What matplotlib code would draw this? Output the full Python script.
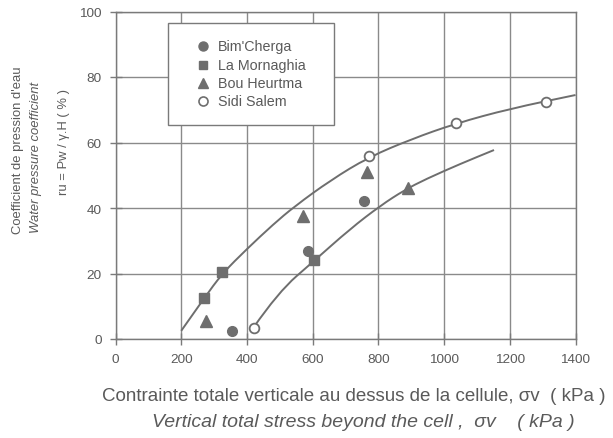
import matplotlib
matplotlib.use("Agg")
import matplotlib.pyplot as plt
from matplotlib.path import Path
from matplotlib.patches import PathPatch, Rectangle

plt.rcParams['font.family'] = ['Liberation Sans', 'DejaVu Sans']

GRAY = '#6e6e6e'
TXT = '#5a5a5a'
LINE = '#7a7a7a'

# Data
bim_x = [355, 585, 755]
bim_y = [2.5, 27, 42]
mor_x = [270, 325, 605]
mor_y = [12.5, 20.5, 24]
bou_x = [275, 572, 765, 890]
bou_y = [5.5, 37.5, 51, 46]
sidi_x = [420, 770, 1035, 1310]
sidi_y = [3.5, 56, 66, 72.5]

# Trend curves
up_x = [200, 270, 325, 400, 480, 545, 655, 770, 900, 1035, 1200, 1400]
up_y = [2.5, 12.5, 20, 27.5, 35, 40.5, 48.5, 55.5, 61, 65.8, 70.3, 74.5]
lo_x = [420, 495, 606, 714, 806, 880, 944, 1050, 1152]
lo_y = [3.5, 14.3, 24, 33.6, 40.7, 45.5, 48.8, 53.5, 57.7]

x_ticks = [0, 200, 400, 600, 800, 1000, 1200, 1400]
y_ticks = [0, 20, 40, 60, 80, 100]
labels = ["Bim'Cherga", "La Mornaghia", "Bou Heurtma", "Sidi Salem"]

W, H = 613, 439
fig = plt.figure(figsize=(W / 100, H / 100), dpi=100)
ax = fig.add_axes([115.5 / W, 1 - 340 / H, 460 / W, 327.5 / H])

ax.set_xlim(0, 1400)
ax.set_ylim(0, 100)
ax.set_xticks(x_ticks)
ax.set_yticks(y_ticks)
ax.grid(True, color='#8a8a8a', lw=1.0)
ax.set_axisbelow(True)
for s in ax.spines.values():
    s.set_color(LINE)
    s.set_linewidth(1.0)
ax.tick_params(direction='inout', length=8, width=1.0, colors=LINE,
               labelcolor=TXT, labelsize=9.7, pad=6)


def smooth_curve(xs, ys):
    pts = list(zip(xs, ys))
    verts = [pts[0]]
    codes = [Path.MOVETO]
    for i in range(1, len(pts) - 1):
        mid = ((pts[i][0] + pts[i + 1][0]) / 2, (pts[i][1] + pts[i + 1][1]) / 2)
        verts += [pts[i], mid]
        codes += [Path.CURVE3, Path.CURVE3]
    verts.append(pts[-1])
    codes.append(Path.LINETO)
    return PathPatch(Path(verts, codes), fc='none', ec=GRAY, lw=1.4,
                     transform=ax.transData, zorder=3, clip_on=False)


ax.add_patch(smooth_curve(up_x, up_y))
ax.add_patch(smooth_curve(lo_x, lo_y))

ms = 7
ax.plot(bim_x, bim_y, 'o', ms=ms, color=GRAY, zorder=4)
ax.plot(mor_x, mor_y, 's', ms=ms, color=GRAY, zorder=4)
ax.plot(bou_x, bou_y, '^', ms=ms + 1, color=GRAY, zorder=4)
ax.plot(sidi_x, sidi_y, 'o', ms=ms, mfc='white', mec=GRAY, mew=1.3, zorder=4)


def fx(px):
    return px / W


def fy(py):
    return 1 - py / H


# Legend box (pixel layout)
fig.patches.append(Rectangle((fx(168.3), fy(126)), fx(334) - fx(168.3), fy(24.3) - fy(126),
                             transform=fig.transFigure, fc='white', ec=LINE, lw=1.0, zorder=5))
rows = [46.7, 65.7, 84.0, 102.3]
styles = [dict(marker='o', color=GRAY, ms=6.5),
          dict(marker='s', color=GRAY, ms=6.2),
          dict(marker='^', color=GRAY, ms=7.2),
          dict(marker='o', mfc='white', mec=GRAY, mew=1.2, ms=6.5)]
for ry, lab, st in zip(rows, labels, styles):
    fig.add_artist(plt.Line2D([fx(203.3)], [fy(ry)], linestyle='none',
                              transform=fig.transFigure, zorder=6, **st))
    fig.text(fx(218.3), fy(ry), lab, ha='left', va='center', fontsize=10.3,
             color=TXT, zorder=6)

# Y labels
fig.text(fx(18.5), fy(150), "Coefficient de pression d'eau", rotation=90, ha='center', va='center',
         fontsize=9.4, color=TXT)
fig.text(fx(36), fy(157), "Water pressure coefficient", rotation=90, ha='center', va='center',
         fontsize=9.4, color=TXT, style='italic')
fig.text(fx(63.5), fy(142), "ru = Pw / γ.H ( % )", rotation=90, ha='center', va='center',
         fontsize=9.4, color=TXT)

# X labels
fig.text(fx(102), fy(397), "Contrainte totale verticale au dessus de la cellule, σv  ( kPa )",
         ha='left', va='center', fontsize=13.5, color=TXT)
fig.text(fx(152), fy(423), "Vertical total stress beyond the cell ,  σv    ( kPa )",
         ha='left', va='center', fontsize=14, color=TXT, style='italic')

fig.savefig('out.png', dpi=100)
